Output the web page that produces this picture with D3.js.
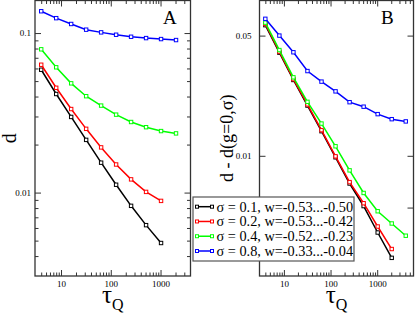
<!DOCTYPE html>
<html>
<head>
<meta charset="utf-8">
<script src="https://cdn.jsdelivr.net/npm/d3@7"></script>
<style>
  body { margin: 0; background: #fff; }
  svg { display: block; font-family: "Liberation Serif", "Times New Roman", serif; }
</style>
</head>
<body>
<div id="chart"></div>
<script>
// quench times
const tauA = [4, 8, 16, 32, 64, 128, 256, 512, 1024, 2048]
const tauB = [4, 8, 16, 32, 64, 128, 256, 512, 1024, 2048, 4096]

// panel A : d
const dA01 = [0.0589, 0.0415, 0.0298, 0.0214, 0.0154, 0.0112, 0.00826, 0.00625, 0.00483]
const dA02 = [0.0633, 0.0454, 0.0334, 0.0251, 0.0192, 0.0150, 0.0121, 0.0101, 0.00887]
const dA04 = [0.0791, 0.0610, 0.0484, 0.0402, 0.0351, 0.0308, 0.0277, 0.0257, 0.0243, 0.0235]
const dA08 = [0.137, 0.124, 0.114, 0.105, 0.101, 0.0976, 0.0948, 0.0930, 0.0917, 0.0904]

// panel B : d - d(g=0,sigma)
const dB01 = [0.0575, 0.0398, 0.0276, 0.0196, 0.0139, 0.0098, 0.0069, 0.0051, 0.00358, 0.00255]
const dB02 = [0.0585, 0.0403, 0.0279, 0.0199, 0.0141, 0.00993, 0.00703, 0.0053, 0.00388, 0.00287]
const dB04 = [0.0595, 0.0412, 0.0286, 0.0206, 0.0154, 0.01136, 0.00823, 0.00608, 0.00476, 0.00404, 0.00343]
const dB08 = [0.0626, 0.0500, 0.0400, 0.0311, 0.0270, 0.0237, 0.0205, 0.0193, 0.01747, 0.01633, 0.01585]

const legendLabels = [
  "σ = 0.1, w=-0.53...-0.50",
  "σ = 0.2, w=-0.53...-0.42",
  "σ = 0.4, w=-0.52...-0.23",
  "σ = 0.8, w=-0.33...-0.04"
]
const colors = ["#000000", "#ff0000", "#00ff00", "#0000ff"]

const xMajor = [10, 100, 1000]
const yMajorA = [0.01, 0.1]
const yMajorB = [0.005, 0.01, 0.05]
const yLabelsB = [0.01, 0.05]

const WIDTH = 415
const HEIGHT = 313

const svg = d3.select("#chart")
  .append("svg")
    .attr("width", WIDTH)
    .attr("height", HEIGHT)

// minor ticks 2..9 for every decade inside a domain
const minorTicks = (domain) => {
  const out = []
  for (let e = -4; e <= 4; e++) {
    for (let m = 2; m <= 9; m++) {
      const v = m * Math.pow(10, e)
      if (v > domain[0] * 1.0001 && v < domain[1] * 0.9999) out.push(v)
    }
  }
  return out
}

const fmt = (d) => d3.format("~g")(d)

const drawPanel = (cfg) => {
  const x = d3.scaleLog().domain(cfg.xDomain).range(cfg.xRange)
  const y = d3.scaleLog().domain(cfg.yDomain).range(cfg.yRange)
  const [x0, x1] = cfg.xRange
  const [y0, y1] = cfg.yRange
  const g = svg.append("g")

  // inward ticks on all four sides
  const sides = [
    { make: () => d3.axisBottom(x), tr: `translate(0,${y0})`, major: xMajor, minor: minorTicks(cfg.xDomain), labels: xMajor, pad: 5 },
    { make: () => d3.axisTop(x), tr: `translate(0,${y1})`, major: xMajor, minor: minorTicks(cfg.xDomain), labels: [], pad: 5 },
    { make: () => d3.axisLeft(y), tr: `translate(${x0},0)`, major: cfg.yMajor, minor: cfg.yMinor, labels: cfg.yLabels, pad: cfg.yPad },
    { make: () => d3.axisRight(y), tr: `translate(${x1},0)`, major: cfg.yMajor, minor: cfg.yMinor, labels: [], pad: 5 }
  ]

  sides.forEach((s) => {
    const major = g.append("g")
      .attr("transform", s.tr)
      .call(
        s.make()
          .tickValues(s.major)
          .tickSize(-6)
          .tickPadding(s.pad)
          .tickFormat((d) => (s.labels.includes(d) ? fmt(d) : ""))
      )
    const minor = g.append("g")
      .attr("transform", s.tr)
      .call(
        s.make()
          .tickValues(s.minor)
          .tickSize(-3.5)
          .tickFormat("")
      );
    [major, minor].forEach((a) => {
      a.select(".domain").remove()
      a.selectAll("line").attr("stroke", "#333").attr("stroke-width", 1)
      a.selectAll("text")
        .attr("font-family", "Liberation Serif, serif")
        .attr("font-size", 9)
        .attr("fill", "#000")
    })
  })

  // frame
  g.append("rect")
    .attr("x", x0)
    .attr("y", y1)
    .attr("width", x1 - x0)
    .attr("height", y0 - y1)
    .attr("fill", "none")
    .attr("stroke", "#333")
    .attr("stroke-width", 1.3)

  const line = d3.line()
    .x((d) => x(d[0]))
    .y((d) => y(d[1]))

  cfg.series.forEach((vals, k) => {
    const pts = vals.map((v, j) => [cfg.tau[j], v])
    g.append("path")
      .datum(pts)
      .attr("fill", "none")
      .attr("stroke", colors[k])
      .attr("stroke-width", 1.5)
      .attr("d", line)
    g.append("g")
      .selectAll("rect")
      .data(pts)
      .join("rect")
        .attr("x", (d) => x(d[0]) - 1.7)
        .attr("y", (d) => y(d[1]) - 1.7)
        .attr("width", 3.4)
        .attr("height", 3.4)
        .attr("fill", "#fff")
        .attr("stroke", colors[k])
        .attr("stroke-width", 1)
  })

  // panel letter
  g.append("text")
    .attr("x", cfg.letterX)
    .attr("y", 24)
    .attr("font-size", 19)
    .text(cfg.letter)

  // x title tau_Q
  const xt = g.append("text")
    .attr("x", (x0 + x1) / 2)
    .attr("y", 303)
    .attr("text-anchor", "middle")
  xt.append("tspan").attr("font-size", 25).text("τ")
  xt.append("tspan").attr("font-size", 16).attr("dy", 7).text("Q")

  // y title
  g.append("text")
    .attr("transform", `translate(${cfg.yTitleX},${(y0 + y1) / 2}) rotate(-90)`)
    .attr("text-anchor", "middle")
    .attr("font-size", cfg.yTitleSize)
    .text(cfg.yTitle)
}

drawPanel({
  tau: tauA,
  series: [dA01, dA02, dA04, dA08],
  xDomain: [3, 4000],
  xRange: [35, 190.5],
  yDomain: [0.003, 0.16],
  yRange: [276, 0.5],
  yMajor: yMajorA,
  yMinor: minorTicks([0.003, 0.16]),
  yLabels: yMajorA,
  yPad: 4,
  letter: "A",
  letterX: 163,
  yTitle: "d",
  yTitleX: 16,
  yTitleSize: 20
})

drawPanel({
  tau: tauB,
  series: [dB01, dB02, dB04, dB08],
  xDomain: [3, 6000],
  xRange: [259.5, 413.5],
  yDomain: [0.002, 0.08],
  yRange: [276, 0.5],
  yMajor: yMajorB,
  yMinor: [],
  yLabels: yLabelsB,
  yPad: 8,
  letter: "B",
  letterX: 381,
  yTitle: "d - d(g=0,σ)",
  yTitleX: 233,
  yTitleSize: 18
})

// legend
const legend = svg.append("g").attr("transform", "translate(193,197)")
legend.append("rect")
  .attr("width", 161)
  .attr("height", 64)
  .attr("fill", "#fff")
  .attr("stroke", "#555")
  .attr("stroke-width", 1.2)

const rowY = d3.scalePoint().domain(d3.range(legendLabels.length)).range([9.7, 54]).padding(0)

const rows = legend.selectAll("g.row")
  .data(legendLabels)
  .join("g")
    .attr("class", "row")
    .attr("transform", (_, i) => `translate(0,${rowY(i)})`)

rows.append("line")
  .attr("x1", 4).attr("x2", 19)
  .attr("stroke", (_, i) => colors[i])
  .attr("stroke-width", 1.5)
rows.selectAll("rect")
  .data((_, i) => [4, 19].map((px) => ({ px, c: colors[i] })))
  .join("rect")
    .attr("x", (d) => d.px - 1.5)
    .attr("y", -1.5)
    .attr("width", 3)
    .attr("height", 3)
    .attr("fill", "#fff")
    .attr("stroke", (d) => d.c)
    .attr("stroke-width", 1)
rows.append("text")
  .attr("x", 23.5)
  .attr("y", 5)
  .attr("font-size", 14.3)
  .text((d) => d)
</script>
</body>
</html>
